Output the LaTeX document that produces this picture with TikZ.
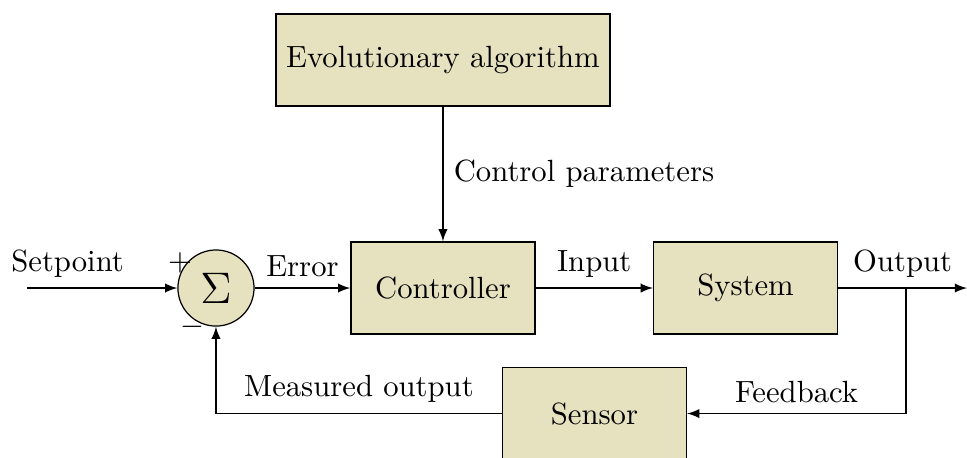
\documentclass[tikz,border=0pt]{standalone}
\usepackage{amssymb,amsmath}
\usepackage{tikz}
\definecolor{boxfill}{RGB}{230,226,192}
\tikzset{
	block/.style={draw, fill=boxfill, rectangle, minimum height=3em, minimum width=6em},
	sumnode/.style={draw, fill=boxfill, circle, inner sep=0pt, minimum size=24.8pt},
	>=latex
}
\begin{document}
\begin{tikzpicture}
		\useasboundingbox (0,0) rectangle (11.077,-5.246);

		\node[block] (evo) at (5.074,-0.687) {Evolutionary algorithm};
		\node[sumnode] (sum) at (2.474,-3.299) {\Large$\Sigma$};
		\node[block] (ctrl) at (5.074,-3.299) {Controller};
		\node[block] (sys) at (8.540,-3.299) {System};
		\node[block] (sensor) at (6.810,-4.737) {Sensor};

		\node (plus) at (2.062,-3.013) {$+$};
		\node (minus) at (2.199,-3.746) {$-$};

		\coordinate (setin) at (0.31,-3.299);
		\coordinate (branch) at (10.378,-3.299);
		\coordinate (outend) at (11.077,-3.299);

		\draw[->] (setin) -- node[above, pos=0.27] {Setpoint} (sum);
		\draw[->] (sum) -- node[above] {Error} (ctrl);
		\draw[->] (evo) -- node[right] {Control parameters} (ctrl);
		\draw[->] (ctrl) -- node[above] {Input} (sys);
		\draw[->] (sys) -- node[above] {Output} (outend);
		\draw[->] (branch) |- node[above, pos=0.75] {Feedback} (sensor);
		\draw[->] (sensor) -| node[above, pos=0.25] {Measured output} (sum);

	\end{tikzpicture}
\end{document}
